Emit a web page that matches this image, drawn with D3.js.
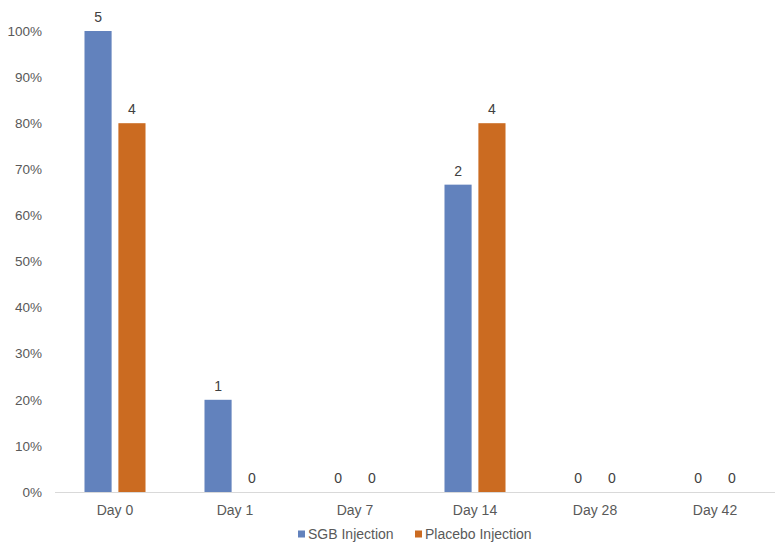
<!DOCTYPE html>
<html><head><meta charset="utf-8">
<script src="https://cdn.jsdelivr.net/npm/d3@7"></script>
<style>body{margin:0;background:#fff;} svg{display:block;} text{font-family:"Liberation Sans",Arial,Helvetica,sans-serif;}</style>
</head><body>
<svg id="c" width="777" height="548"></svg>
<script>
const categories = ["Day 0","Day 1","Day 7","Day 14","Day 28","Day 42"];
const seriesNames = ["SGB Injection","Placebo Injection"];
const sgbValues = [1.0, 0.2, 0, 0.6667, 0, 0];
const placeboValues = [0.8, 0, 0, 0.8, 0, 0];
const sgbLabels = ["5","1","0","2","0","0"];
const placeboLabels = ["4","0","0","4","0","0"];
const yTicks = [0,0.1,0.2,0.3,0.4,0.5,0.6,0.7,0.8,0.9,1.0];
const colors = ["#6282BD","#CB6B21"];

const svg = d3.select("#c");
const m = {l:55, r:775, t:31, b:492};
const x = d3.scaleBand().domain(categories).range([m.l, m.r]).paddingInner(0).paddingOuter(0);
const y = d3.scaleLinear().domain([0,1]).range([m.b, m.t]);
const sub = d3.scaleBand().domain(seriesNames).range([0, x.bandwidth()]).paddingInner(0.2).paddingOuter(0.87);

// y axis labels
svg.append("g").selectAll("text").data(yTicks).join("text")
  .attr("x", 42).attr("y", d => y(d)).attr("dy","0.35em")
  .attr("text-anchor","end").attr("font-size",13.5).attr("fill","#595959")
  .text(d => d3.format(".0%")(d));

// axis line
svg.append("line").attr("x1", m.l).attr("x2", m.r).attr("y1", m.b+0.5).attr("y2", m.b+0.5)
  .attr("stroke","#d9d9d9").attr("stroke-width",1);

const series = [sgbValues, placeboValues];
const labels = [sgbLabels, placeboLabels];
series.forEach((vals, si) => {
  const g = svg.append("g");
  g.selectAll("rect").data(categories).join("rect")
    .attr("x", (c) => x(c) + sub(seriesNames[si]))
    .attr("width", sub.bandwidth())
    .attr("y", (c,i) => y(vals[i]))
    .attr("height", (c,i) => y(0) - y(vals[i]))
    .attr("fill", colors[si]);
  g.selectAll("text").data(categories).join("text")
    .attr("x", (c) => x(c) + sub(seriesNames[si]) + sub.bandwidth()/2)
    .attr("y", (c,i) => y(vals[i]) - 9)
    .attr("text-anchor","middle").attr("font-size",14).attr("fill","#404040")
    .text((c,i) => labels[si][i]);
});

// x labels
svg.append("g").selectAll("text").data(categories).join("text")
  .attr("x", c => x(c) + x.bandwidth()/2).attr("y", 510).attr("dy","0.35em")
  .attr("text-anchor","middle").attr("font-size",14).attr("fill","#595959")
  .text(c => c);

// legend
const leg = svg.append("g");
const legX = [298, 415];
seriesNames.forEach((n, i) => {
  leg.append("rect").attr("x", legX[i]).attr("y", 530.5).attr("width", 7).attr("height", 7).attr("fill", colors[i]);
  leg.append("text").attr("x", legX[i] + 10).attr("y", 534.5).attr("dy","0.35em")
    .attr("font-size",14).attr("fill","#595959").text(n);
});
</script>
</body></html>
